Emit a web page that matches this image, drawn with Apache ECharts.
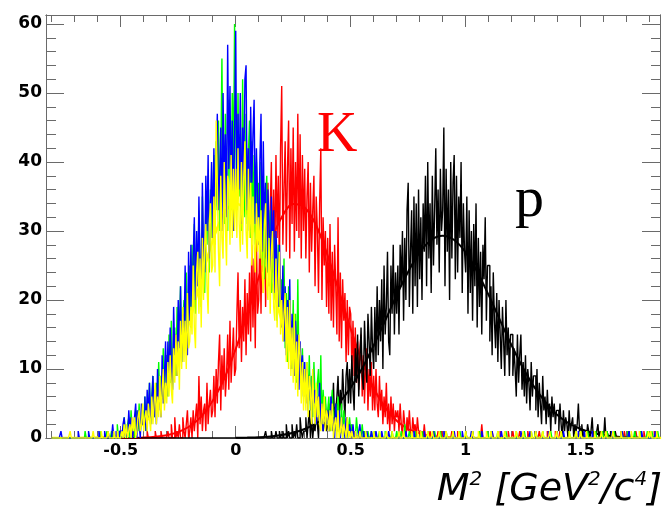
<!DOCTYPE html>
<html><head><meta charset="utf-8">
<script src="https://cdn.jsdelivr.net/npm/echarts@6/dist/echarts.min.js"></script>
<style>html,body{margin:0;padding:0;background:#fff}#c{width:664px;height:509px}</style>
</head><body><div id="c"></div>
<script>
// Histogram binning: bins of 0.005 starting at -0.8, data given in rows of 0.1 (20 bins)
const BIN = 0.005, X0 = -0.8, ROW = 0.1;
const EMPTY = [0,0,0,0,0,0,0,0,0,0,0,0,0,0,0,0,0,0,0,0];

const xMajorTicks = [-0.5, 0, 0.5, 1, 1.5];
const xMinorTicks = [-0.8,-0.7,-0.6,-0.4,-0.3,-0.2,-0.1,0.1,0.2,0.3,0.4,0.6,0.7,0.8,0.9,1.1,1.2,1.3,1.4,1.6,1.7,1.8];
const yMajorTicks = [0, 10, 20, 30, 40, 50, 60];
const yMinorTicks = [2,4,6,8,12,14,16,18,22,24,26,28,32,34,36,38,42,44,46,48,52,54,56,58];

const blueRows = [
 [0,0,0,0,0,0,0,0,1,0,0,0,0,0,0,0,0,0,0,0],
 [0,0,0,1,0,0,0,0,0,0,0,0,1,0,0,0,0,0,0,0],
 [0,1,0,0,0,0,1,0,0,1,0,0,0,2,0,0,1,0,0,1],
 [1,0,2,3,0,1,0,4,1,3,0,1,3,5,0,4,2,0,5,2],
 [2,6,1,7,3,8,2,5,9,3,7,2,10,4,8,3,12,5,9,14],
 [6,14,8,16,11,7,19,12,15,9,20,13,22,11,18,14,25,16,12,27],
 [17,28,19,26,32,20,30,22,35,25,21,37,27,24,38,30,41,26,33,40],
 [29,42,31,40,47,33,38,45,30,50,36,44,32,57,39,51,35,46,30,44],
 [59,34,47,36,50,31,45,38,52,54,33,42,30,48,37,44,49,31,42,35],
 [28,40,47,27,43,30,37,24,36,31,22,35,26,33,21,30,25,19,28,22],
 [16,25,14,22,12,20,15,23,10,18,13,9,17,11,15,7,14,9,12,6],
 [11,5,10,4,9,6,3,10,5,7,2,6,4,8,2,5,1,4,3,2],
 [4,1,3,6,1,3,0,5,1,2,4,0,3,1,2,0,3,1,0,2],
 [1,0,2,0,1,0,0,1,2,0,0,1,0,0,1,0,0,0,1,0],
 [0,0,1,0,0,0,0,1,0,0,0,0,0,1,0,0,0,0,0,0],
 [0,0,1,0,0,0,0,0,1,0,0,0,0,0,0,1,0,0,0,0],
 [0,0,0,0,1,0,0,0,0,0,0,0,1,0,0,0,0,0,0,0],
 [0,1,0,0,0,0,0,0,0,0,1,0,0,0,0,0,0,1,0,0],
 [0,0,0,0,0,1,0,0,0,0,0,0,0,0,1,0,0,0,0,0],
 [0,0,0,1,0,0,0,0,0,0,0,1,0,0,0,0,0,0,0,0],
 [0,0,0,0,0,0,0,0,1,0,0,0,0,0,0,0,1,0,0,0],
 [0,1,0,0,0,0,0,0,0,0,0,0,1,0,0,0,0,0,0,0],
 [0,0,0,0,0,1,0,0,0,0,0,0,0,0,0,0,0,0,1,0],
 [0,0,0,1,0,0,0,0,0,0,1,0,0,0,0,0,0,0,0,0],
 [0,0,0,0,0,0,0,1,0,0,0,0,0,0,0,0,1,0,0,0],
 [0,0,1,0,0,0,0,0,0,0,0,0,0,1,0,0,0,0,0,0],
 [0,0,0,0,0,1,0,0,0,0]
];

const greenRows = [
 EMPTY,
 [0,0,0,0,0,0,0,0,0,1,0,0,0,0,0,0,0,0,0,0],
 [0,0,1,0,0,0,0,0,1,0,0,0,1,0,0,0,0,2,0,0],
 [0,1,0,3,1,0,2,3,0,4,1,2,0,2,4,1,5,1,3,4],
 [2,6,1,5,3,8,2,6,9,3,5,8,4,11,5,9,6,13,5,11],
 [12,6,15,8,17,7,13,16,9,19,12,15,22,11,17,20,13,24,15,21],
 [25,16,28,19,31,18,27,22,33,24,19,35,26,21,34,28,38,24,36,29],
 [34,41,28,43,33,46,30,40,55,35,31,47,36,30,49,38,33,50,39,60],
 [45,33,50,35,44,30,52,38,32,47,31,41,46,29,43,33,41,28,40,32],
 [37,26,40,25,36,23,34,38,24,29,33,21,31,20,29,24,17,28,19,22],
 [23,15,26,13,21,11,22,15,17,10,20,9,18,8,23,10,12,8,13,6],
 [10,6,11,5,12,4,9,3,11,6,2,8,10,3,12,2,7,4,6,2],
 [4,6,1,5,7,2,1,5,1,6,3,1,5,0,4,2,0,3,0,3],
 [1,2,0,1,0,3,1,0,1,0,2,0,1,0,0,1,0,0,1,0],
 [0,1,0,0,0,1,0,0,0,0,1,0,0,0,0,0,1,0,0,0],
 [1,0,0,0,1,0,0,2,0,0,0,1,0,0,0,0,1,0,0,0],
 [0,0,1,0,0,0,0,1,0,0,0,0,0,1,0,0,0,0,1,0],
 [0,0,0,1,0,0,0,0,0,1,0,0,0,0,0,1,0,0,0,0],
 [1,0,0,0,0,0,1,0,0,0,0,0,1,0,0,0,0,0,0,1],
 [0,0,1,0,0,0,0,0,1,0,0,0,0,0,0,1,0,0,0,0],
 [0,0,0,0,1,0,0,0,0,0,0,1,0,0,0,0,0,1,0,0],
 [0,1,0,0,0,0,0,1,0,0,0,0,0,0,1,0,0,0,0,0],
 [0,0,0,1,0,0,0,0,0,0,1,0,0,0,0,0,1,0,0,0],
 [1,0,0,0,0,0,1,0,0,0,0,0,0,1,0,0,0,0,0,1],
 [0,0,0,1,0,0,0,0,0,1,0,0,0,0,0,0,1,0,0,0],
 [0,1,0,0,0,0,0,1,0,0,0,0,1,0,0,0,0,0,1,0],
 [0,0,1,0,0,0,0,1,0,0]
];

const yellowRows = [
 [0,0,0,0,0,0,0,0,0,0,0,0,0,0,0,0,1,0,0,0],
 [0,0,0,0,0,0,0,0,0,0,0,0,0,0,0,0,1,0,0,0],
 [0,0,0,1,0,0,0,0,0,1,0,0,0,0,1,0,0,1,0,0],
 [0,1,0,2,0,2,0,1,2,0,3,1,3,0,1,3,4,1,2,5],
 [1,3,4,1,5,3,1,6,2,5,8,2,6,3,9,3,7,10,4,8],
 [5,11,6,12,7,5,13,8,15,9,14,7,17,10,19,11,17,10,21,13],
 [14,19,15,25,16,13,24,27,18,26,16,29,20,28,31,22,18,31,34,24],
 [25,35,24,46,37,27,22,38,29,26,40,31,25,38,37,28,41,29,39,30],
 [39,29,42,31,27,40,28,38,43,30,26,39,29,37,25,35,28,24,34,27],
 [32,26,33,24,21,31,34,22,20,29,18,27,30,19,17,26,16,23,27,15],
 [20,14,18,21,11,19,10,20,9,16,8,18,7,14,6,15,12,5,11,4],
 [10,4,11,3,9,7,2,10,4,2,8,3,6,2,1,5,2,6,1,4],
 [3,1,4,1,5,0,2,3,0,4,0,1,3,0,2,1,0,3,0,1],
 [0,1,0,0,1,0,0,0,1,0,0,0,0,1,0,0,0,0,0,0],
 [1,0,0,0,0,1,0,0,0,0,0,1,0,0,0,0,1,0,0,0],
 [0,0,1,0,0,0,1,0,0,0,0,0,0,1,0,0,0,0,1,0],
 [0,1,0,0,0,0,0,1,0,0,0,1,0,0,0,0,0,1,0,0],
 [0,0,0,1,0,0,0,0,0,1,0,0,0,0,1,0,0,0,0,0],
 [1,0,0,0,0,0,1,0,0,0,0,1,0,0,0,0,0,0,1,0],
 [0,0,1,0,0,0,0,0,1,0,0,0,0,0,1,0,0,0,0,0],
 [0,0,0,0,1,0,0,0,0,0,1,0,0,0,0,0,0,1,0,0],
 [0,1,0,0,0,0,0,1,0,0,0,0,0,1,0,0,0,0,0,1],
 [0,0,0,1,0,0,0,0,0,0,1,0,0,0,0,0,1,0,0,0],
 [1,0,0,0,0,1,0,0,0,0,0,0,1,0,0,0,0,0,1,0],
 [0,0,1,0,0,0,0,0,1,0,0,0,0,0,0,1,0,0,0,0],
 [0,0,0,0,1,0,0,0,0,0,0,1,0,0,0,0,0,0,0,1],
 [0,1,0,0,0,0,1,0,0,0]
];

const redRows = [
 EMPTY, EMPTY, EMPTY,
 [0,0,0,0,0,0,0,0,0,0,0,0,1,0,0,0,0,0,0,0],
 [0,0,0,1,0,0,0,0,0,0,1,0,0,0,0,1,0,0,0,0],
 [0,1,0,0,2,0,0,3,0,1,0,2,0,0,3,1,0,2,4,0],
 [1,3,0,4,1,3,5,0,9,2,6,1,4,5,1,8,2,5,7,3],
 [4,9,3,10,5,11,15,4,12,7,13,6,9,15,7,17,8,12,16,9],
 [10,18,24,13,20,11,19,14,23,12,21,15,24,14,28,16,26,13,29,18],
 [20,30,18,32,21,35,19,31,37,22,33,40,24,36,26,41,29,38,25,42],
 [51,28,36,43,27,39,46,26,42,31,45,27,40,30,47,29,44,26,41,30],
 [39,26,35,40,24,37,27,33,38,22,35,30,21,34,42,20,32,25,30,19],
 [29,18,31,17,27,16,28,22,15,32,14,24,13,23,17,21,11,20,12,19],
 [18,10,17,9,16,8,14,7,13,15,6,12,5,11,13,4,10,6,11,4],
 [9,4,10,5,3,9,4,7,2,6,3,8,2,5,1,6,2,5,1,4],
 [3,4,1,5,2,0,4,2,0,3,1,4,1,0,3,1,2,0,3,1],
 [1,0,1,0,2,0,0,1,0,1,0,0,1,0,0,0,1,0,0,1],
 [0,0,1,0,0,0,0,0,1,0,0,0,0,1,0,0,0,0,0,0],
 [1,0,0,0,0,0,1,0,0,0,0,0,0,0,2,0,0,0,0,0],
 [0,0,0,1,0,0,0,0,0,0,1,0,0,0,0,0,0,1,0,0],
 [0,1,0,0,0,0,0,1,0,0,0,0,0,0,1,0,0,0,0,0],
 [0,0,0,0,1,0,0,0,0,0,0,1,0,0,0,0,0,0,1,0],
 [0,0,1,0,0,0,0,0,0,1,0,0,0,0,0,0,1,0,0,0],
 [1,0,0,0,0,0,1,0,0,0,0,0,0,1,0,0,0,0,0,0],
 [0,0,0,1,0,0,0,0,0,0,1,0,0,0,0,0,0,0,1,0],
 [0,1,0,0,0,0,0,0,1,0,0,0,0,0,0,1,0,0,0,0],
 [0,0,0,0,1,0,0,0,0,0]
];

const blackRows = [
 EMPTY, EMPTY, EMPTY, EMPTY, EMPTY, EMPTY, EMPTY, EMPTY, EMPTY,
 [0,0,0,0,0,0,1,0,0,0,0,1,0,0,0,1,0,0,1,0],
 [0,1,0,0,2,0,1,0,0,2,0,1,0,2,0,0,3,1,0,1],
 [1,3,0,2,4,0,3,0,2,1,4,2,0,5,2,4,1,2,5,1],
 [2,5,1,6,3,8,2,4,6,9,3,7,4,10,6,3,9,11,5,10],
 [5,12,7,4,13,8,15,6,11,16,9,7,17,12,8,18,14,9,19,13],
 [10,19,11,22,12,20,14,23,10,25,15,19,27,14,12,25,18,28,15,24],
 [18,25,15,28,22,30,17,29,20,33,37,19,27,33,18,35,22,34,19,36],
 [23,32,20,34,27,38,22,40,26,34,21,38,25,33,42,28,36,24,39,30],
 [33,45,22,39,27,36,20,40,26,37,41,23,38,24,35,29,40,21,34,27],
 [24,35,18,33,21,30,17,31,22,34,16,29,19,27,15,28,23,32,17,25],
 [25,14,22,12,24,17,13,21,11,20,15,10,19,14,9,20,12,16,9,15],
 [15,9,13,10,6,15,8,12,15,7,11,6,12,5,10,8,4,11,6,9],
 [9,4,10,3,8,5,2,9,4,6,2,7,3,5,1,6,3,5,2,4],
 [4,1,5,2,0,4,1,3,2,0,4,1,2,3,0,2,1,2,5,1],
 [1,2,0,1,1,0,2,1,0,1,3,0,1,0,1,2,0,1,0,0],
 [0,3,0,1,0,0,1,0,0,0,1,0,0,0,0,1,0,0,0,0],
 [0,0,1,0,0,0,0,1,0,0,0,0,1,0,0,0,0,0,0,0],
 [0,0,0,0,0,0,0,0,0,0]
];

// Fitted curves, sampled every 0.05
const FIT_STEP = 0.05;
const yellowFitStart = -0.8;
const yellowFit = [0,0,0,0.02,0.07,0.18,0.45,1.0,2.1,4.1,7.2,11.5,17.0,23.0,28.6,32.6,34.0,32.6,28.6,23.0,17.0,11.5,7.2,4.1,2.1,1.0,0.45,0.18,0.07,0.02,
 0,0,0,0,0,0,0,0,0,0,0,0,0,0,0,0,0,0,0,0,0,0,0,0];
const redFitStart = -0.6;
const redFit = [0,0,0.01,0.03,0.07,0.18,0.41,0.86,1.7,3.1,5.4,8.6,12.9,17.9,23.3,28.3,32.0,33.9,33.4,30.8,26.4,21.2,15.8,11.0,7.2,4.4,2.5,1.3,0.65,0.3,0.13,0.05];
const blackFitStart = 0.0;
const blackFit = [0.03,0.06,0.11,0.22,0.42,0.75,1.3,2.1,3.3,5.1,7.3,10.1,13.4,17.0,20.7,24.1,26.9,28.7,29.3,28.7,26.9,24.1,20.7,17.0,13.4,10.1,7.3,5.1,3.3,2.1,1.3,0.75,0.42,0.22,0.11,0.06,0.03,0.01];

const XMIN = -0.825, XMAX = 1.845, YMIN = 0, YMAX = 61.3;
const FRAME = '#6a6a6a';
const HW = 1.4;

function histData(rows) {
  const d = [];
  rows.forEach((row, r) => row.forEach((v, j) => {
    d.push([+(X0 + r * ROW + (j + 0.5) * BIN).toFixed(4), v]);
  }));
  return d;
}
function fitData(start, vals) {
  return vals.map((v, i) => [+(start + i * FIT_STEP).toFixed(3), v]);
}
function hist(rows, color, width) {
  return { type: 'line', data: histData(rows), step: 'middle', symbol: 'none', showSymbol: false,
    lineStyle: { color: color, width: width }, itemStyle: { color: color }, silent: true, animation: false };
}
function fit(start, vals, color, width) {
  return { type: 'line', data: fitData(start, vals), smooth: 0.35, symbol: 'none', showSymbol: false,
    lineStyle: { color: color, width: width }, itemStyle: { color: color }, silent: true, animation: false };
}
function labelFont(size) {
  return { fontFamily: 'DejaVu Sans', fontWeight: 'bold', fontSize: size, color: '#000' };
}
function xAx(pos, ticks, len, labels) {
  return { type: 'value', min: XMIN, max: XMAX, position: pos,
    axisLine: { show: true, onZero: false, lineStyle: { color: FRAME, width: 1 } },
    axisTick: { show: true, inside: true, length: len, customValues: ticks, lineStyle: { color: FRAME, width: 1 } },
    axisLabel: labels ? Object.assign({ show: true, margin: 5, customValues: xMajorTicks }, labelFont(16)) : { show: false },
    splitLine: { show: false }, minorTick: { show: false } };
}
function yAx(pos, ticks, len, labels) {
  return { type: 'value', min: YMIN, max: YMAX, position: pos,
    axisLine: { show: true, onZero: false, lineStyle: { color: FRAME, width: 1 } },
    axisTick: { show: true, inside: true, length: len, customValues: ticks, lineStyle: { color: FRAME, width: 1 } },
    axisLabel: labels ? Object.assign({ show: true, margin: 4, customValues: yMajorTicks }, labelFont(17)) : { show: false },
    splitLine: { show: false }, minorTick: { show: false } };
}

const chart = echarts.init(document.getElementById('c'), null, { renderer: 'canvas' });
chart.setOption({
  animation: false,
  backgroundColor: '#ffffff',
  grid: { left: 46, top: 15, width: 614, height: 423 },
  xAxis: [ xAx('bottom', xMajorTicks, 12, true), xAx('bottom', xMinorTicks, 7, false),
           xAx('top', xMajorTicks, 12, false), xAx('top', xMinorTicks, 7, false) ],
  yAxis: [ yAx('left', yMajorTicks, 18, true), yAx('left', yMinorTicks, 10, false),
           yAx('right', yMajorTicks, 18, false), yAx('right', yMinorTicks, 9, false) ],
  series: [
    fit(redFitStart, redFit, '#ff0000', 2),
    hist(redRows, '#ff0000', HW),
    hist(blackRows, '#000000', HW),
    fit(blackFitStart, blackFit, '#000000', 2),
    fit(yellowFitStart, yellowFit, '#ffff00', 2.5),
    hist(greenRows, '#00ff00', HW),
    hist(blueRows, '#0000ff', HW),
    hist(yellowRows, '#ffff00', HW)
  ],
  graphic: [
    { type: 'text', x: 317, y: 136, silent: true,
      style: { text: 'K', fontFamily: 'Liberation Serif', fontSize: 56, fill: '#ff0000', align: 'left', verticalAlign: 'middle' } },
    { type: 'text', x: 515, y: 201, silent: true,
      style: { text: 'p', fontFamily: 'Liberation Serif', fontSize: 58, fill: '#000000', align: 'left', verticalAlign: 'middle' } },
    { type: 'text', x: 662, y: 490, silent: true,
      style: { text: '{a|M}{s|2}{a| [GeV}{s|2}{a|/c}{s|4}{a|]}', align: 'right', verticalAlign: 'middle',
        rich: {
          a: { fontFamily: 'DejaVu Sans', fontStyle: 'italic', fontSize: 38, lineHeight: 40, fill: '#000' },
          s: { fontFamily: 'DejaVu Sans', fontStyle: 'italic', fontSize: 20, lineHeight: 16, verticalAlign: 'top', fill: '#000' }
        } } }
  ]
});
</script>
</body></html>
